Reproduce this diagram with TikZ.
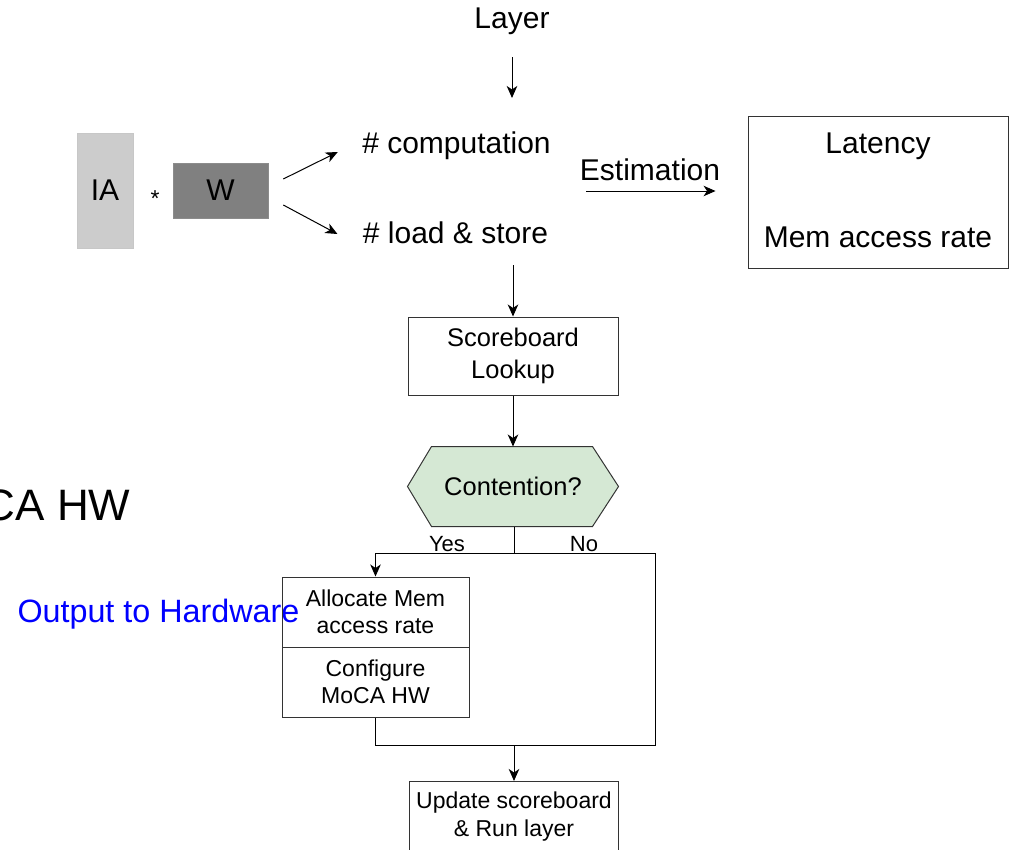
\documentclass[tikz,border=0pt]{standalone}
\usepackage{fontspec}
\setmainfont{Liberation Sans}
\usetikzlibrary{arrows.meta,calc,backgrounds}
\definecolor{hexgreen}{HTML}{D5E8D4}
\definecolor{iagray}{HTML}{CCCCCC}
\definecolor{wgray}{HTML}{808080}
\definecolor{hwblue}{HTML}{0000FF}
\begin{document}
\begin{tikzpicture}[x=1pt,y=-1pt,line width=1pt,
  fsbig/.style={font=\fontsize{30}{34}\selectfont,inner sep=0pt},
  fsbox/.style={font=\fontsize{23}{27.5}\selectfont,inner sep=0pt,align=center},
  fsmid/.style={font=\fontsize{25.5}{32}\selectfont,inner sep=0pt,align=center},
  frame/.style={draw=black!80,line width=1pt,inner sep=0pt},
  arr/.style={-{Stealth[length=12pt,width=10.5pt,inset=3.5pt]},line width=1pt},
  link/.style={line width=1pt}]
\useasboundingbox (0,0) rectangle (1012,849);
\clip (0,0) rectangle (1012,849);

% ---- layer and its operation counts ----
\node[fsbig,anchor=base] (layer) at (512,28) {Layer};
\draw[arr] ($(layer.base)+(0,29)$) -- ($(layer.base)+(0,70)$);

\node[fsbig,anchor=base] (comp) at (456.5,153) {\# computation};
\node[fsbig,anchor=base] (ls) at (455.5,243) {\# load \& store};

% operands
\node[fill=iagray,draw=black!22,line width=0.6pt,minimum width=56pt,minimum height=115pt,
      fsbig] (ia) at (105,190.5) {IA};
\node[font=\fontsize{23}{27}\selectfont,inner sep=0pt,anchor=base] (star) at (155,206) {*};
\node[fill=wgray,draw=black!45,line width=0.6pt,minimum width=95pt,minimum height=55pt,
      fsbig] (w) at (220.5,190.5) {W};

\draw[arr] ($(w.east)+(15,-11.5)$) -- ($(comp.base west)+(-24,-1)$);
\draw[arr] ($(w.east)+(15,14.5)$) -- ($(ls.base west)+(-25,-9)$);

% ---- estimation ----
\node[fsbig,anchor=base] (est) at (650,180) {Estimation};
\draw[arr] ($(est.base west)+(7,11)$) -- ($(est.base east)+(-5,11)$);

\node[frame,minimum width=260pt,minimum height=152pt] (lat) at (878,192) {};
\node[fsbig,anchor=base] (latt) at (878,153) {Latency};
\node[fsbig,anchor=base] (mar) at (878,247) {Mem access rate};

% ---- scoreboard flow ----
\node[frame,fsmid,minimum width=210pt,minimum height=78pt] (sb) at (513,356) {Scoreboard\\Lookup};
\draw[arr] ($(sb.north |- ls.base)+(0,22)$) -- (sb.north);

\node[fsmid,minimum width=210pt,minimum height=79pt] (cont) at (513,486.5) {Contention?};
\begin{scope}[on background layer]
  \filldraw[fill=hexgreen,draw=black!80,line width=1pt]
    (cont.west) -- ($(cont.north west)+(24,0)$) -- ($(cont.north east)+(-26,0)$)
    -- (cont.east) -- ($(cont.south east)+(-26,0)$) -- ($(cont.south west)+(24,0)$) -- cycle;
\end{scope}
\draw[arr] (sb.south) -- (cont.north);

\coordinate (split) at (514,553);
\coordinate (join) at (514,745);
\draw[link] (cont.south -| split) -- (split);

\node[fsbox,font=\fontsize{22}{26}\selectfont,anchor=base] (yes) at (447,551) {Yes};
\node[fsbox,font=\fontsize{22}{26}\selectfont,anchor=base] (no) at (584,551) {No};

% output text sits under the allocation box
\node[font=\fontsize{32.3}{37}\selectfont,text=hwblue,inner sep=0pt,anchor=base west] (out) at (17,622) {Output to Hardware};
\node[font=\fontsize{44}{50}\selectfont,inner sep=0pt,anchor=base east] (moca) at (131,520) {MoCA HW};

\node[frame,fsbox,minimum width=187pt,minimum height=70pt] (alloc) at (375.5,612) {Allocate Mem\\access rate};
\node[frame,fsbox,minimum width=187pt,minimum height=70pt] (config) at (375.5,682) {Configure\\MoCA HW};

\draw[arr] (split) -| (alloc.north);
\draw[link] (split) -- ++(141,0) |- (join);
\draw[link] (config.south) |- (join);

\node[frame,minimum width=209pt,minimum height=100pt,anchor=north] (update) at (514,781) {};
\node[fsbox,anchor=north] (updtext) at ($(update.north)+(0,10.5)$) {Update scoreboard\\\& Run layer};
\draw[arr] (join) -- (update.north);
\end{tikzpicture}
\end{document}
